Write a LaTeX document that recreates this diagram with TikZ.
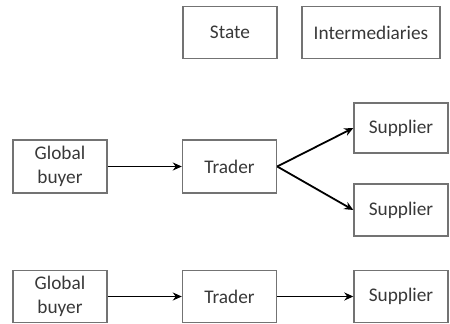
\documentclass[tikz,border=0pt]{standalone}
\usepackage{fontspec}
\setmainfont{Carlito}
\usetikzlibrary{arrows.meta}
\begin{document}
\begin{tikzpicture}[x=1pt,y=-1pt,
  box/.style={draw=black!55, line width=1.4pt, rectangle, minimum width=94pt,
    minimum height=52pt, inner sep=0pt, align=center, text=black!78,
    font=\fontsize{19.3}{24}\selectfont},
  flow/.style={line width=1.8pt, -{Stealth[length=9pt,width=8pt]}}]
\useasboundingbox (0,0) rectangle (450,324);
% legend boxes
\node[box] (state) at (230,32.5) {State};
\node[box, minimum width=138pt] (inter) at (371,32.5) {Intermediaries};
% branching chain
\node[box, minimum height=53pt] (gb1) at (60,166.5) {Global\\buyer};
\node[box, minimum height=53pt] (tr1) at (229.5,166.5) {Trader};
\node[box, minimum height=50pt] (su1) at (401,128) {Supplier};
\node[box] (su2) at (401,210) {Supplier};
% linear chain
\node[box] (gb2) at (60,296.5) {Global\\buyer};
\node[box] (tr2) at (229.5,296.5) {Trader};
\node[box] (su3) at (401,296.5) {Supplier};
% connectors
\draw[flow] (gb1.east) -- (tr1.west);
\draw[flow] (tr1.east) -- (su1.west);
\draw[flow] (tr1.east) -- (su2.west);
\draw[flow] (gb2.east) -- (tr2.west);
\draw[flow] (tr2.east) -- (su3.west);
\end{tikzpicture}
\end{document}
